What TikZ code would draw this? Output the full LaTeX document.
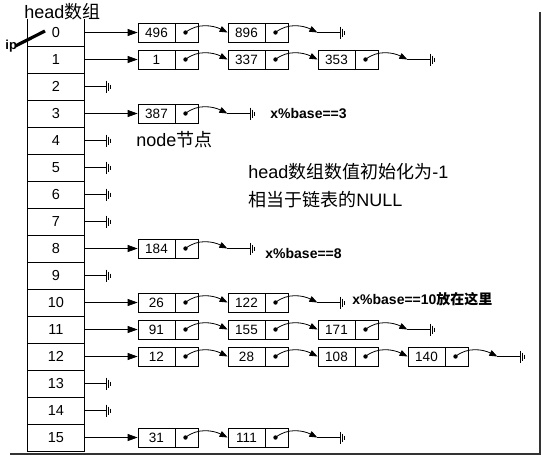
\documentclass[tikz,border=0pt]{standalone}
\usepackage{fontspec}
\setmainfont{Liberation Sans}
\newfontfamily\cjk{Noto Sans CJK SC}
\usetikzlibrary{arrows.meta}
\tikzset{
  cell/.style={minimum width=56pt, minimum height=27pt, inner sep=0pt, font=\fontsize{14.5}{16}\selectfont},
  val/.style={draw, minimum width=37pt, minimum height=19pt, inner sep=0pt, font=\fontsize{13.5}{15}\selectfont},
  ptr/.style={draw, minimum width=23pt, minimum height=19pt, inner sep=0pt},
  headarr/.style={-{Triangle[length=10pt,width=7pt]}},
  linkarr/.style={-{Triangle[length=8pt,width=6pt]}},
  lbl/.style={anchor=west, inner sep=0pt, font=\fontsize{18}{22}\selectfont},
  bl/.style={anchor=west, inner sep=0pt, font=\bfseries\fontsize{14}{16}\selectfont},
  gnd/.pic={
    \draw[line width=0.9pt] (0,-6) -- (0,6);
    \draw[line width=0.8pt] (2,-4) -- (2,4);
    \draw[line width=0.7pt] (4,-2) -- (4,2);
  }
}
\begin{document}
\begin{tikzpicture}[x=1pt, y=-1pt, line width=0.8pt]
\useasboundingbox (0,0) rectangle (541,456);
% frame (right and bottom)
\draw[line width=1.3pt, black!80] (540,12) -- (540,454) -- (10,454);
% head array
\foreach \i in {0,...,15}
  \node[cell] (c\i) at (56, {32.5+27*\i}) {\i};
\draw (c0.north west) -- (c15.south west) -- (c15.south east) -- (c0.north east);
\foreach \i in {0,...,14}
  \draw (c\i.south west) -- (c\i.south east);
% title and ip
\node[lbl] (title) at (24,12) {head{\cjk 数组}};
\node[anchor=west, inner sep=0pt, font=\bfseries\fontsize{13}{15}\selectfont] (ip) at (5,46) {ip};
\coordinate (ipend) at (45,31);
\draw[line width=3.2pt] ([xshift=-2pt]ip.east) -- (ipend);
% empty rows
\foreach \r in {2,4,5,6,7,9,13,14} {
  \coordinate (g\r) at ([xshift=22pt]c\r.east);
  \draw (c\r.east) -- (g\r);
  \pic at (g\r) {gnd};
}
% lists
\foreach \r/\vals/\n in {0/{496,896}/2, 1/{1,337,353}/3, 3/{387}/1, 8/{184}/1,
    10/{26,122}/2, 11/{91,155,171}/3, 12/{12,28,108,140}/4, 15/{31,111}/2} {
  \foreach \v [count=\j from 0] in \vals {
    \node[val] (v\r-\j) at ({156.5+90*\j}, {32.5+27*\r}) {\v};
    \node[ptr] (p\r-\j) at ({186.5+90*\j}, {32.5+27*\r}) {};
    \coordinate (d\r-\j) at ([xshift=-1pt]p\r-\j.center);
    \fill (d\r-\j) circle (2.2pt);
  }
  \draw[headarr] (c\r.east) -- (v\r-0.west);
  \pgfmathtruncatemacro\last{\n-1}
  \ifnum\last>0
    \foreach \j [evaluate=\j as \k using int(\j-1)] in {1,...,\last}
      \draw[linkarr] (d\r-\k) .. controls +(12,-10) and +(-14,-7) .. (v\r-\j.west);
  \fi
  \coordinate (t\r) at ([xshift=29pt]p\r-\last.east);
  \coordinate (g\r) at ([xshift=52pt]p\r-\last.east);
  \draw[linkarr] (d\r-\last) .. controls +(12,-10) and +(-14,-7) .. (t\r);
  \draw (t\r) -- (g\r);
  \pic at (g\r) {gnd};
}
% annotations
\node[lbl] (nodelbl) at (136,140) {node{\cjk 节点}};
\node[bl] (m3) at (270,114) {x\%base==3};
\node[bl] (m8) at (265,253) {x\%base==8};
\node[bl] (m10) at (352,299) {x\%base==10{\cjk 放在这里}};
\node[lbl] (init1) at (248,172) {head{\cjk 数组数值初始化为}-1};
\node[lbl] (init2) at (248,200) {{\cjk 相当于链表的}NULL};
\end{tikzpicture}
\end{document}
